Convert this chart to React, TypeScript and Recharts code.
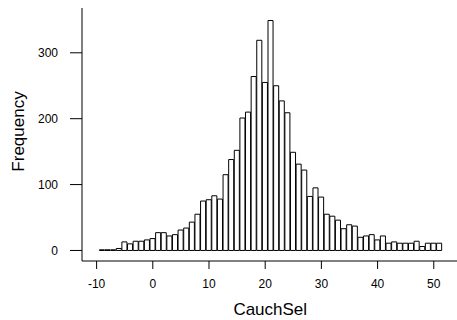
import React from 'react';
import { BarChart, Bar, XAxis, YAxis } from 'recharts';

// Histogram bins (centres, width 1) and their frequencies
const binCenters = [
  -9, -8, -7, -6, -5, -4, -3, -2, -1, 0,
  1, 2, 3, 4, 5, 6, 7, 8, 9, 10,
  11, 12, 13, 14, 15, 16, 17, 18, 19, 20,
  21, 22, 23, 24, 25, 26, 27, 28, 29, 30,
  31, 32, 33, 34, 35, 36, 37, 38, 39, 40,
  41, 42, 43, 44, 45, 46, 47, 48, 49, 50, 51,
];
const counts = [
  1, 1, 1, 3, 13, 10, 14, 14, 16, 18,
  27, 27, 22, 24, 31, 34, 43, 55, 75, 77,
  83, 78, 115, 138, 152, 201, 210, 264, 319, 255,
  349, 250, 227, 209, 149, 131, 122, 82, 95, 81,
  55, 52, 46, 33, 39, 37, 20, 22, 24, 16,
  22, 11, 13, 11, 11, 11, 14, 6, 11, 11, 11,
];
const xTicks = [-10, 0, 10, 20, 30, 40, 50];
const yTicks = [0, 100, 200, 300];
const xLabel = 'CauchSel';
const yLabel = 'Frequency';

const data = binCenters.map((b, i) => ({ bin: b, count: counts[i] }));

const font = "'Liberation Sans', Arial, sans-serif";

export default function App() {
  return (
    <div
      style={{
        position: 'absolute',
        left: 0,
        top: 0,
        width: 457,
        height: 320,
        overflow: 'hidden',
        background: '#fff',
      }}
    >
      <BarChart
        width={480}
        height={320}
        data={data}
        margin={{ top: 8, right: 21.5, bottom: 0, left: 0 }}
        barCategoryGap={0}
        barGap={0}
      >
        <XAxis
          xAxisId="top"
          orientation="top"
          type="number"
          dataKey="bin"
          domain={[-12.6, 54.4]}
          allowDataOverflow
          height={0}
          tick={false}
          tickLine={false}
          axisLine={{ stroke: '#000' }}
        />
        <XAxis
          dataKey="bin"
          type="number"
          domain={[-12.6, 54.4]}
          allowDataOverflow
          ticks={xTicks}
          height={59}
          tickSize={8}
          tickMargin={10}
          axisLine={{ stroke: '#000' }}
          tickLine={{ stroke: '#000' }}
          tick={{ fill: '#000', fontSize: 12, fontFamily: font }}
          label={{
            value: xLabel,
            position: 'insideBottom',
            offset: 5,
            fill: '#000',
            fontSize: 17,
            fontFamily: font,
          }}
        />
        <YAxis
          type="number"
          domain={[-16, 368]}
          allowDataOverflow
          ticks={yTicks}
          width={82}
          tickSize={12}
          tickMargin={12}
          axisLine={{ stroke: '#000' }}
          tickLine={{ stroke: '#000' }}
          tick={{ fill: '#000', fontSize: 12, fontFamily: font }}
          label={{
            value: yLabel,
            angle: -90,
            position: 'insideLeft',
            offset: 18,
            dy: -3,
            fill: '#000',
            fontSize: 17,
            fontFamily: font,
            style: { textAnchor: 'middle' },
          }}
        />
        <Bar
          dataKey="count"
          fill="#fff"
          stroke="#000"
          strokeWidth={1}
          barSize="99.9%"
          isAnimationActive={false}
        />
      </BarChart>
    </div>
  );
}
